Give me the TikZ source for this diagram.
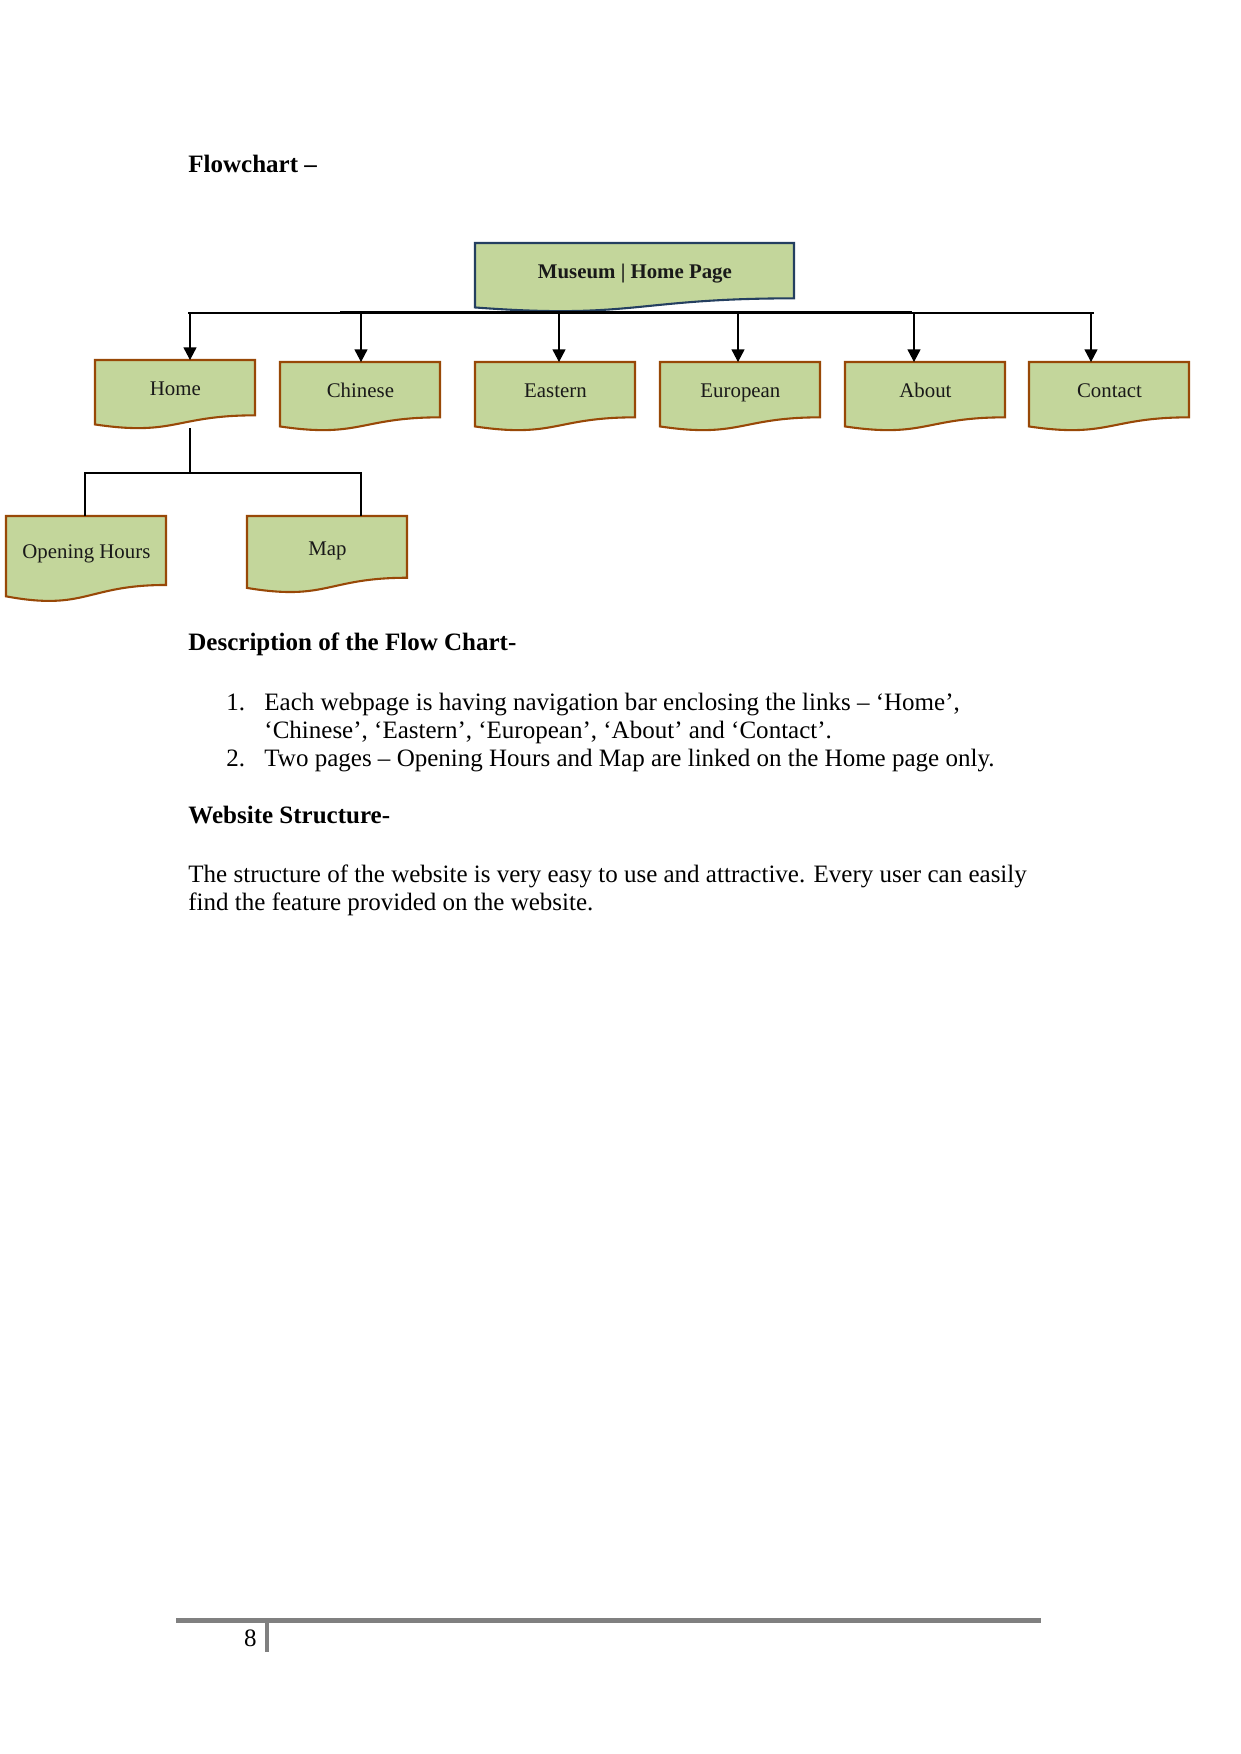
\documentclass[tikz,border=0pt]{standalone}
\usepackage{fontspec}
\setmainfont{Liberation Serif}
\usetikzlibrary{arrows.meta,calc}
\definecolor{boxgreen}{HTML}{C3D69B}
\definecolor{boxbrown}{HTML}{984807}
\definecolor{boxnavy}{HTML}{243F60}
\definecolor{footgray}{HTML}{808080}
\tikzset{
  docfill/.style={fill=boxgreen, line width=1pt, line join=miter},
  boxlabel/.style={inner sep=0pt, text height=9.1pt, text depth=2.2pt, font=\fontsize{10}{12}\selectfont, text=black!90},
  bodytext/.style={anchor=base west, inner sep=0pt, font=\fontsize{12}{13.8}\selectfont},
  headtext/.style={bodytext, font=\fontsize{12}{13.8}\selectfont\bfseries},
  conn/.style={line width=0.5pt, black},
  arr/.style={conn, -{Triangle[width=6.2pt,length=6pt]}},
}
\newcommand{\wavebox}[7]{%
  \path[docfill, draw=#7] (#2,#3) -- ({#2+#4},#3) -- ({#2+#4},{#3+0.802*#5})
    .. controls ({#2+0.5*#4},{#3+0.802*#5}) and ({#2+0.5*#4},{#3+1.1075*#5}) .. (#2,{#3+0.934*#5}) -- cycle;
  \node[boxlabel, minimum width={#4*0.4797pt}, minimum height={0.82*#5*0.4797pt}, anchor=north west] (#1) at (#2,#3) {#6};
}
\begin{document}
\begin{tikzpicture}[x=0.4797pt, y=-0.4797pt]
\useasboundingbox[fill=white] (0,0) rectangle (1241,1754);

% heading
\node[headtext] (fc) at (188,173) {Flowchart –};

% boxes
\wavebox{museum}{475}{243}{319}{69}{\textbf{Museum | Home Page}}{boxnavy}
\wavebox{home}{95}{360}{160}{69}{Home}{boxbrown}
\wavebox{chinese}{280}{362}{160}{69}{Chinese}{boxbrown}
\wavebox{eastern}{475}{362}{160}{69}{Eastern}{boxbrown}
\wavebox{european}{660}{362}{160}{69}{European}{boxbrown}
\wavebox{about}{845}{362}{160}{69}{About}{boxbrown}
\wavebox{contact}{1029}{362}{160}{69}{Contact}{boxbrown}
\wavebox{oh}{6}{516}{160}{86}{Opening Hours}{boxbrown}
\wavebox{map}{247}{516}{160}{77}{Map}{boxbrown}

% bus
\coordinate (busL) at (188,313);
\coordinate (busR) at (1094,313);
\coordinate (busTL) at (340,312.5);
\coordinate (busTR) at (912,312.5);
\draw[conn] (busL) -- (busR);
\draw[line width=1pt] (busTL) -- (busTR);

\coordinate (aHome) at (190,313);
\coordinate (aChinese) at (361,313);
\coordinate (aEastern) at (559,313);
\coordinate (aEuropean) at (738,313);
\coordinate (aAbout) at (914,313);
\coordinate (aContact) at (1091,313);
\draw[arr] (aHome) -- (aHome |- home.north);
\draw[arr] (aChinese) -- (aChinese |- chinese.north);
\draw[arr] (aEastern) -- (aEastern |- eastern.north);
\draw[arr] (aEuropean) -- (aEuropean |- european.north);
\draw[arr] (aAbout) -- (aAbout |- about.north);
\draw[arr] (aContact) -- (aContact |- contact.north);

% home children
\coordinate (hs) at (190,428);
\coordinate (hj) at (190,473);
\coordinate (jl) at (85,473);
\coordinate (jr) at (361,473);
\draw[conn] (hs) -- (hj);
\draw[conn] (jl |- oh.north) -- (jl) -- (jr) -- (jr |- map.north);

% description
\node[headtext] (dh) at (188,650) {Description of the Flow Chart-};
\node[bodytext] (n1) at (226,710) {1.};
\node[bodytext] (t1a) at (264,710) {Each webpage is having navigation bar enclosing the links – ‘Home’,};
\node[bodytext] (t1b) at (264,738) {‘Chinese’, ‘Eastern’, ‘European’, ‘About’ and ‘Contact’.};
\node[bodytext] (n2) at (226,766) {2.};
\node[bodytext] (t2) at (264,766) {Two pages – Opening Hours and Map are linked on the Home page only.};

\node[headtext] (wh) at (188,823) {Website Structure-};
\node[bodytext] (p1) at (188,882) {The structure of the website is very easy to use and attractive. Every user can easily};
\node[bodytext] (p2) at (188,910) {find the feature provided on the website.};

% footer
\coordinate (fL) at (176,1620.5);
\coordinate (fR) at (1041,1620.5);
\draw[footgray, line width=2.2pt] (fL) -- (fR);
\coordinate (vT) at (267,1622);
\coordinate (vB) at (267,1652);
\draw[footgray, line width=1.9pt] (vT) -- (vB);
\node[anchor=base east, inner sep=0pt, font=\fontsize{12}{13.8}\selectfont] (pg) at (257,1646) {8};
\end{tikzpicture}
\end{document}
